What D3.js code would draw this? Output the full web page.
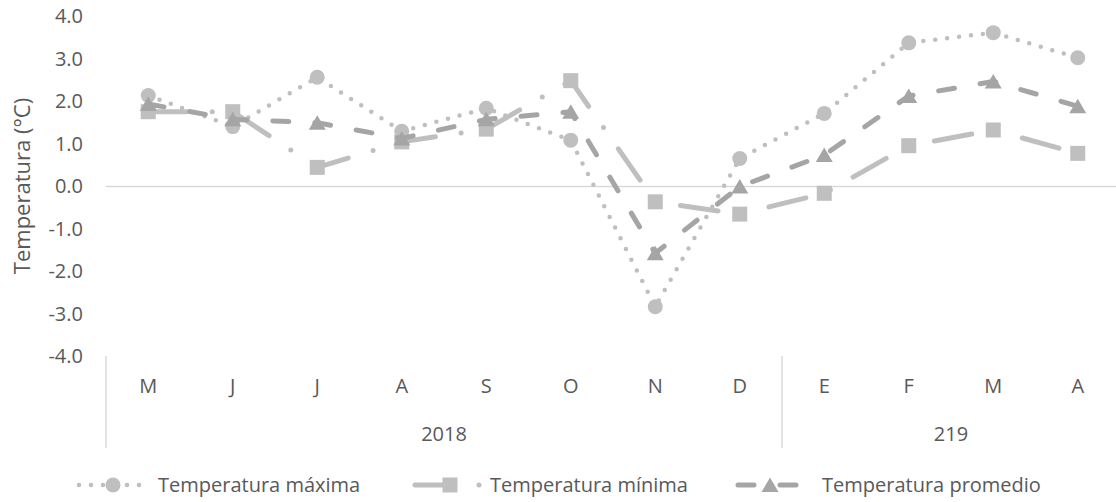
<!DOCTYPE html>
<html>
<head>
<meta charset="utf-8">
<script src="https://cdn.jsdelivr.net/npm/d3@7"></script>
<style>
  html, body { margin: 0; padding: 0; background: #ffffff; }
  svg { display: block; }
  text { font-family: "Open Sans", "Noto Sans", sans-serif; fill: #595959; }
</style>
</head>
<body>
<svg id="chart" width="1116" height="502"></svg>
<script>
// Monthly temperature anomalies, May 2018 – April 2019
const months = ["M", "J", "J", "A", "S", "O", "N", "D", "E", "F", "M", "A"];
const years = [
  { label: "2018", from: 0, to: 8 },
  { label: "219", from: 8, to: 12 }
];
const tempMax = [2.14, 1.41, 2.57, 1.30, 1.84, 1.09, -2.83, 0.66, 1.72, 3.38, 3.62, 3.03];
const tempMin = [1.76, 1.76, 0.45, 1.05, 1.35, 2.49, -0.36, -0.65, -0.16, 0.96, 1.33, 0.78];
const tempAvg = [1.94, 1.58, 1.50, 1.13, 1.58, 1.76, -1.57, 0.00, 0.74, 2.13, 2.47, 1.89];
const yTicks = [-4, -3, -2, -1, 0, 1, 2, 3, 4];
const seriesNames = ["Temperatura máxima", "Temperatura mínima", "Temperatura promedio"];

const svg = d3.select("#chart");

const x = d3.scaleBand()
  .domain(d3.range(months.length))
  .range([106, 1120])
  .paddingInner(0).paddingOuter(0);

const y = d3.scaleLinear()
  .domain([-4, 4])
  .range([356.5, 16.5]);

const cx = i => x(i) + x.bandwidth() / 2;

// Y axis labels (no axis line, no ticks)
const yAxis = d3.axisLeft(y)
  .tickValues(yTicks)
  .tickSize(0)
  .tickPadding(0)
  .tickFormat(v => v.toFixed(1));

svg.append("g")
  .attr("transform", "translate(83,0)")
  .call(yAxis)
  .call(g => g.select(".domain").remove())
  .call(g => g.selectAll("text")
    .style("font-family", "'Open Sans', sans-serif")
    .style("font-size", "20px")
    .attr("fill", "#595959"));

// Axis title
svg.append("text")
  .attr("transform", "translate(30,186) rotate(-90)")
  .attr("text-anchor", "middle")
  .style("font-size", "22px")
  .text("Temperatura (°C)");

// Horizontal zero line
svg.append("line")
  .attr("x1", 106).attr("x2", 1116)
  .attr("y1", y(0)).attr("y2", y(0))
  .attr("stroke", "#D9D9D9").attr("stroke-width", 1.5);

// Month labels
const xAxis = d3.axisBottom(x)
  .tickSize(0)
  .tickPadding(0)
  .tickFormat(i => months[i]);

svg.append("g")
  .attr("transform", "translate(0,379)")
  .call(xAxis)
  .call(g => g.select(".domain").remove())
  .call(g => g.selectAll("text")
    .style("font-family", "'Open Sans', sans-serif")
    .style("font-size", "20px")
    .attr("fill", "#595959"));

// Year group separators and labels
const sepX = [x(0), x(8)];
svg.selectAll("line.sep")
  .data(sepX)
  .join("line")
  .attr("class", "sep")
  .attr("x1", d => d).attr("x2", d => d)
  .attr("y1", 356).attr("y2", 448)
  .attr("stroke", "#D9D9D9").attr("stroke-width", 1.5);

svg.selectAll("text.year")
  .data(years)
  .join("text")
  .attr("class", "year")
  .attr("x", d => (x(d.from) + x(d.to - 1) + x.bandwidth()) / 2)
  .attr("y", 441)
  .attr("text-anchor", "middle")
  .style("font-size", "20px")
  .text(d => d.label);

// Series styles
const styles = [
  { data: tempMax, color: "#BFBFBF", width: 4.5, dash: "0 12", marker: "circle" },
  { data: tempMin, color: "#BFBFBF", width: 5, dash: "38 26 0 26", marker: "square" },
  { data: tempAvg, color: "#A5A5A5", width: 5, dash: "16 26", marker: "triangle" }
];

const line = d3.line()
  .x((d, i) => cx(i))
  .y(d => y(d))
  .curve(d3.curveLinear);

function drawMarker(g, type, px, py, color) {
  if (type === "circle") {
    g.append("circle").attr("cx", px).attr("cy", py).attr("r", 7.5).attr("fill", color);
  } else if (type === "square") {
    g.append("rect").attr("x", px - 7.5).attr("y", py - 7.5)
      .attr("width", 15).attr("height", 15).attr("fill", color);
  } else {
    g.append("path")
      .attr("d", "M0,-7.5L8.5,7L-8.5,7Z")
      .attr("transform", `translate(${px},${py})`)
      .attr("fill", color);
  }
}

styles.forEach(s => {
  const g = svg.append("g");
  g.append("path")
    .datum(s.data)
    .attr("d", line)
    .attr("fill", "none")
    .attr("stroke", s.color)
    .attr("stroke-width", s.width)
    .attr("stroke-dasharray", s.dash)
    .attr("stroke-linecap", "round")
    .attr("stroke-linejoin", "round");
  s.data.forEach((v, i) => drawMarker(g, s.marker, cx(i), y(v), s.color));
});

// Legend
const legendY = 485;
const legendItems = [
  { lx1: 79, lx2: 147, mx: 113, tx: 158, offset: 0 },
  { lx1: 415, lx2: 485, mx: 450, tx: 490, offset: 0 },
  { lx1: 738, lx2: 806, mx: 770, tx: 822, offset: 0 }
];
legendItems.forEach((it, k) => {
  const s = styles[k];
  const g = svg.append("g");
  g.append("line")
    .attr("x1", it.lx1).attr("x2", it.lx2)
    .attr("y1", legendY).attr("y2", legendY)
    .attr("stroke", s.color).attr("stroke-width", s.width)
    .attr("stroke-dasharray", s.dash)
    .attr("stroke-dashoffset", it.offset)
    .attr("stroke-linecap", "round");
  drawMarker(g, s.marker, it.mx, legendY, s.color);
  g.append("text")
    .attr("x", it.tx).attr("y", legendY)
    .attr("dy", "0.35em")
    .style("font-size", "20px")
    .text(seriesNames[k]);
});
</script>
</body>
</html>
